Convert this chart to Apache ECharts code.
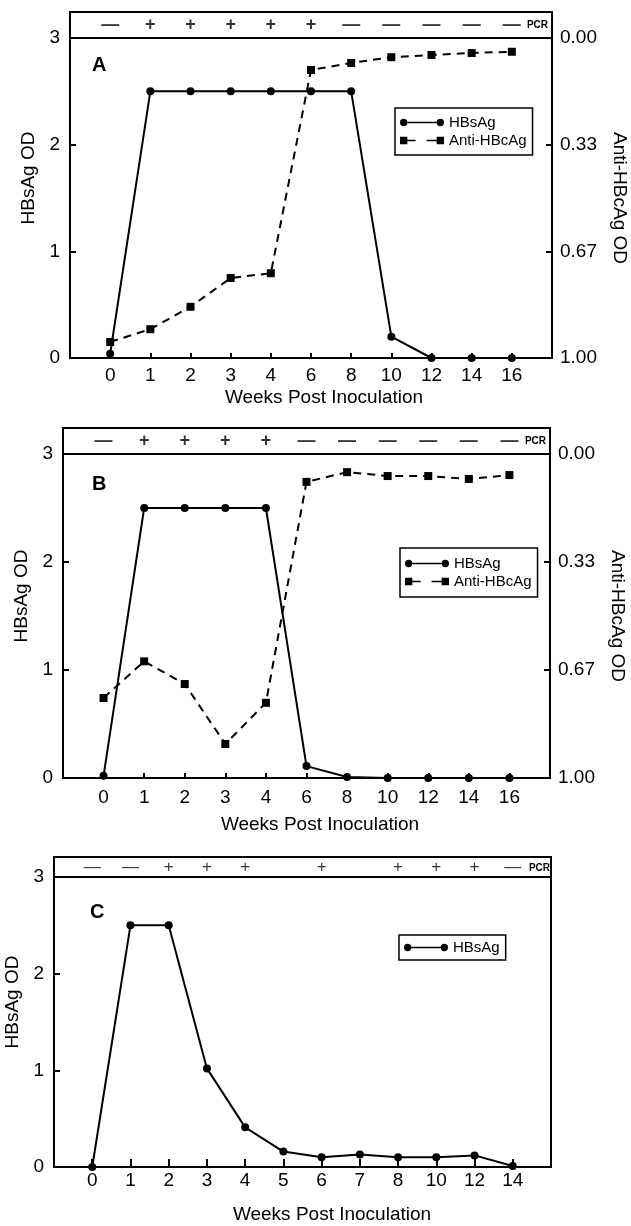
<!DOCTYPE html>
<html>
<head>
<meta charset="utf-8">
<script src="https://cdn.jsdelivr.net/npm/echarts@6/dist/echarts.min.js"></script>
<style>
  html, body { margin: 0; background: #fff; }
  #chart { width: 631px; height: 1226px; }
</style>
</head>
<body>
<div id="chart"></div>
<script>
// data
const weeksAB = ['0', '1', '2', '3', '4', '6', '8', '10', '12', '14', '16'];
const hbsA = [0.04, 2.5, 2.5, 2.5, 2.5, 2.5, 2.5, 0.2, 0, 0, 0];
const antiA = [0.95, 0.91, 0.84, 0.75, 0.735, 0.10, 0.078, 0.06, 0.053, 0.047, 0.043];
const pcrA = ['—', '+', '+', '+', '+', '+', '—', '—', '—', '—', '—'];

const hbsB = [0.02, 2.5, 2.5, 2.5, 2.5, 0.11, 0.01, 0, 0, 0, 0];
const antiB = [0.753, 0.64, 0.71, 0.895, 0.768, 0.086, 0.056, 0.068, 0.068, 0.077, 0.065];
const pcrB = ['—', '+', '+', '+', '+', '—', '—', '—', '—', '—', '—'];

const weeksC = ['0', '1', '2', '3', '4', '5', '6', '7', '8', '10', '12', '14'];
const hbsC = [0, 2.5, 2.5, 1.02, 0.41, 0.16, 0.10, 0.13, 0.10, 0.10, 0.12, 0.01];
const pcrC = ['—', '—', '+', '+', '+', '', '+', '', '+', '+', '+', '—'];

const rightTicks = [0, 1 / 3, 2 / 3, 1];

const FONT = "'Liberation Sans', Arial, sans-serif";
const ICON_HBS = 'path://M0,5A4,4,0,1,1,8,5A4,4,0,1,1,0,5Z M8,4.2L40,4.2L40,5.8L8,5.8Z M40,5A4,4,0,1,1,48,5A4,4,0,1,1,40,5Z';
const ICON_ANTI = 'path://M0,1H8V9H0Z M8,4.2H17V5.8H8Z M29,4.2H40V5.8H29Z M40,1H48V9H40Z';

const grids = [], xAxes = [], yAxes = [], series = [], legends = [], titles = [], graphics = [];

function addPanel(c) {
    const g = grids.length;
    grids.push({ left: c.left, right: c.right, top: c.top, height: c.height, show: true,
        borderColor: '#000', borderWidth: 2, backgroundColor: 'transparent', outerBoundsMode: 'none' });
    grids.push({ left: c.left, right: c.right, top: c.stripTop, height: c.stripH, show: true,
        borderColor: '#000', borderWidth: 2, backgroundColor: 'transparent', outerBoundsMode: 'none' });

    const xMain = xAxes.length;
    xAxes.push({
        type: 'value', gridIndex: g, min: -1, max: c.weeks.length, interval: 1,
        axisLine: { show: false, onZero: false }, splitLine: { show: false },
        axisTick: { inside: true, length: c.xTickLen, lineStyle: { color: '#000', width: 2 } },
        axisLabel: { color: '#000', fontSize: 19, fontFamily: FONT, margin: c.labelMargin,
            formatter: v => c.weeks[Math.round(v)] ?? '' },
        name: 'Weeks Post Inoculation', nameLocation: 'middle', nameGap: c.xNameGap,
        nameTextStyle: { color: '#000', fontSize: 19, fontFamily: FONT, padding: [0, 0, 0, c.xNamePad] }
    });
    const xStrip = xAxes.length;
    xAxes.push({ type: 'value', gridIndex: g + 1, min: -1, max: c.weeks.length, show: false });

    const yLeft = yAxes.length;
    yAxes.push({
        type: 'value', gridIndex: g, min: 0, max: 3, interval: 1, position: 'left',
        axisLine: { show: false, onZero: false }, splitLine: { show: false },
        axisTick: { inside: true, length: 6, lineStyle: { color: '#000', width: 2 } },
        axisLabel: { color: '#000', fontSize: 19, fontFamily: FONT, margin: 10 },
        name: 'HBsAg OD', nameLocation: 'middle', nameRotate: 90, nameGap: c.leftNameGap,
        nameTextStyle: { color: '#000', fontSize: 19, fontFamily: FONT, padding: [0, 0, 0, c.leftNamePad] }
    });
    let yRight = null;
    if (c.anti) {
        yRight = yAxes.length;
        yAxes.push({
            type: 'value', gridIndex: g, min: 0, max: 1, inverse: true, position: 'right',
            axisLine: { show: false, onZero: false }, splitLine: { show: false },
            axisTick: { inside: true, length: 6, customValues: rightTicks, lineStyle: { color: '#000', width: 2 } },
            axisLabel: { color: '#000', fontSize: 19, fontFamily: FONT, margin: 8,
                customValues: rightTicks, formatter: v => v.toFixed(2) },
            name: 'Anti-HBcAg OD', nameLocation: 'middle', nameRotate: -90, nameGap: 58,
            nameTextStyle: { color: '#000', fontSize: 19, fontFamily: FONT }
        });
    }
    const yStrip = yAxes.length;
    yAxes.push({ type: 'value', gridIndex: g + 1, min: 0, max: 1, show: false });

    series.push({
        name: 'HBsAg', type: 'line', xAxisIndex: xMain, yAxisIndex: yLeft,
        data: c.hbs.map((v, i) => [i, v]),
        symbol: 'circle', symbolSize: 8, clip: false,
        lineStyle: { color: '#000', width: 2 }, itemStyle: { color: '#000' }, z: 3
    });
    if (c.anti) {
        series.push({
            name: 'Anti-HBcAg', type: 'line', xAxisIndex: xMain, yAxisIndex: yRight,
            data: c.anti.map((v, i) => [i, v]),
            symbol: 'rect', symbolSize: 8, clip: false,
            lineStyle: { color: '#000', width: 2, type: [8, 6] }, itemStyle: { color: '#000' }, z: 3
        });
    }
    series.push({
        name: 'pcr' + g, type: 'scatter', xAxisIndex: xStrip, yAxisIndex: yStrip, silent: true,
        data: c.pcr.map((s, i) => [i, 0.5]),
        symbolSize: 1, itemStyle: { color: 'rgba(0,0,0,0)' },
        label: { show: true, position: 'inside', color: '#000', fontSize: c.plusBold ? 18 : 17, fontFamily: FONT,
            fontWeight: c.plusBold ? 'bold' : 'normal', formatter: p => c.pcr[p.dataIndex] }
    });

    legends.push({
        left: c.legend.left, top: c.legend.top, orient: 'vertical', selectedMode: false,
        data: c.anti ? [{ name: 'HBsAg', icon: ICON_HBS }, { name: 'Anti-HBcAg', icon: ICON_ANTI }]
                     : [{ name: 'HBsAg', icon: ICON_HBS }],
        borderColor: '#000', borderWidth: 1.5, padding: c.legend.padding,
        itemWidth: 44, itemHeight: 9, itemGap: 3,
        itemStyle: { borderWidth: 0 },
        textStyle: { color: '#000', fontSize: 15, fontFamily: FONT }
    });

    titles.push({ text: c.letter, left: c.letterX, top: c.letterY, padding: 0,
        textStyle: { color: '#000', fontSize: 20, fontWeight: 'bold', fontFamily: FONT } });

    graphics.push({ type: 'text', right: c.pcrRight, top: c.pcrTop,
        style: { text: 'PCR', fill: '#000', font: 'bold 10px ' + FONT } });
}

addPanel({ weeks: weeksAB, hbs: hbsA, anti: antiA, pcr: pcrA, plusBold: true,
    left: 70, right: 79, top: 38, height: 320, stripTop: 12, stripH: 26, xTickLen: 5,
    labelMargin: 8, xNameGap: 30, xNamePad: 26, leftNameGap: 32, leftNamePad: 40,
    letter: 'A', letterX: 92, letterY: 55,
    legend: { left: 395, top: 108, padding: [7, 6, 7, 5] }, pcrRight: 83, pcrTop: 20 });

addPanel({ weeks: weeksAB, hbs: hbsB, anti: antiB, pcr: pcrB, plusBold: true,
    left: 63, right: 81, top: 454, height: 324, stripTop: 428, stripH: 26, xTickLen: 5,
    labelMargin: 10, xNameGap: 37, xNamePad: 27, leftNameGap: 32, leftNamePad: 40,
    letter: 'B', letterX: 92, letterY: 474,
    legend: { left: 400, top: 548, padding: [8, 6, 8, 5] }, pcrRight: 85, pcrTop: 436 });

addPanel({ weeks: weeksC, hbs: hbsC, anti: null, pcr: pcrC, plusBold: false,
    left: 54, right: 80, top: 877, height: 290, stripTop: 857, stripH: 20, xTickLen: 8,
    labelMargin: 4, xNameGap: 38, xNamePad: 59, leftNameGap: 32, leftNamePad: 40,
    letter: 'C', letterX: 90, letterY: 902,
    legend: { left: 399, top: 935, padding: [5, 6, 5, 5] }, pcrRight: 81, pcrTop: 863 });

const chart = echarts.init(document.getElementById('chart'));
chart.setOption({
    animation: false,
    backgroundColor: '#fff',
    title: titles,
    legend: legends,
    grid: grids,
    xAxis: xAxes,
    yAxis: yAxes,
    series: series,
    graphic: graphics
});
</script>
</body>
</html>
